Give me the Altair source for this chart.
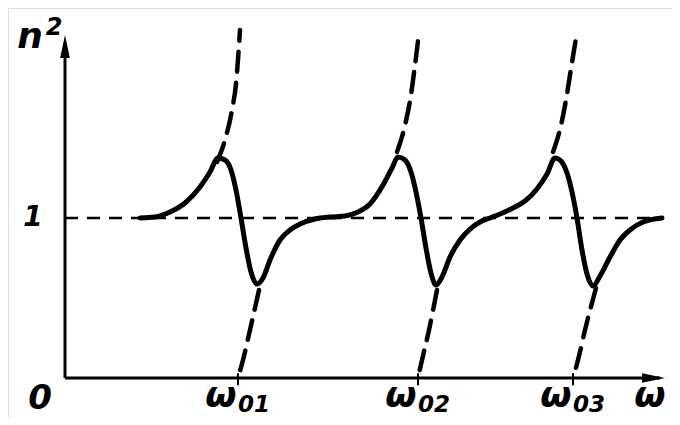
import altair as alt
import pandas as pd

# ---- data (x: omega in arbitrary units, y: n^2) ----
curve_x = [0.75, 0.90, 1.05, 1.20, 1.35, 1.45, 1.53, 1.60, 1.66, 1.71, 1.76, 1.81, 1.86, 1.92,
           1.98, 2.05, 2.15, 2.25, 2.35, 2.50, 2.65, 2.80, 2.93, 3.05, 3.18, 3.27, 3.33, 3.40,
           3.46, 3.51, 3.56, 3.61, 3.66, 3.71, 3.77, 3.85, 3.95, 4.05, 4.15, 4.25, 4.35, 4.48,
           4.60, 4.72, 4.82, 4.90, 4.96, 5.02, 5.07, 5.12, 5.17, 5.22, 5.28, 5.35, 5.45, 5.55,
           5.65, 5.78, 5.97]
curve_y = [1.0, 1.006, 1.0375, 1.094, 1.194, 1.2875, 1.375, 1.3625, 1.30, 1.175, 1.0, 0.8125,
           0.6625, 0.5875, 0.625, 0.7375, 0.8625, 0.925, 0.9625, 0.994, 1.006, 1.0125, 1.0375,
           1.0875, 1.206, 1.3125, 1.381, 1.3625, 1.2875, 1.1625, 1.0, 0.8125, 0.656, 0.581,
           0.631, 0.756, 0.8625, 0.931, 0.975, 1.0, 1.025, 1.0625, 1.106, 1.181, 1.275, 1.375,
           1.356, 1.281, 1.1625, 1.0, 0.8, 0.65, 0.575, 0.6375, 0.756, 0.8625, 0.925, 0.975, 1.0]

# undamped branches (dashed), one list per branch
up1_x = [1.52, 1.60, 1.67, 1.71, 1.75]
up1_y = [1.35, 1.4875, 1.675, 1.8375, 2.175]
lo1_x = [1.94, 1.85, 1.78, 1.73]
lo1_y = [0.55, 0.30, 0.1125, 0.0]
up2_x = [3.32, 3.40, 3.46, 3.50, 3.54]
up2_y = [1.4125, 1.58, 1.77, 1.956, 2.156]
lo2_x = [3.72, 3.64, 3.57, 3.53]
lo2_y = [0.55, 0.30, 0.1125, 0.0]
up3_x = [4.88, 4.96, 5.01, 5.05, 5.11]
up3_y = [1.4125, 1.58, 1.7375, 1.894, 2.125]
lo3_x = [5.31, 5.20, 5.13, 5.08]
lo3_y = [0.5625, 0.30, 0.1125, 0.0]

res_ticks = [1.73, 3.53, 5.08]
tick_subs = ["01", "02", "03"]
x_max = 6.0
y_max = 2.144
unit_level = 1.0

# ---- layout ----
W, H = 664, 409
xs = alt.Scale(domain=[-0.57, 6.07], nice=False, zero=False)
ys = alt.Scale(domain=[-0.24375, 2.3125], nice=False, zero=False)
FONT = "DejaVu Sans"
INK = "#000000"

curve_df = pd.DataFrame({"x": curve_x, "y": curve_y})
branches = []
for name, bx, by in [("u1", up1_x, up1_y), ("l1", lo1_x, lo1_y), ("u2", up2_x, up2_y),
                     ("l2", lo2_x, lo2_y), ("u3", up3_x, up3_y), ("l3", lo3_x, lo3_y)]:
    for i, (a, b) in enumerate(zip(bx, by)):
        branches.append({"b": name, "i": i, "x": a, "y": b})
br_df = pd.DataFrame(branches)

X = lambda: alt.X("x:Q", scale=xs, axis=None)
Y = lambda: alt.Y("y:Q", scale=ys, axis=None)

curve = alt.Chart(curve_df).mark_line(color=INK, strokeWidth=5, interpolate="monotone",
                                      strokeCap="round", strokeJoin="round").encode(x=X(), y=Y())

branch = alt.Chart(br_df).mark_line(color=INK, strokeWidth=4.5, strokeDash=[20, 11],
                                    interpolate="monotone", strokeCap="round").encode(
    x=X(), y=Y(), detail="b:N", order="i:Q")

unit_df = pd.DataFrame({"x": [0.0], "x2": [5.97], "y": [unit_level]})
unit_line = alt.Chart(unit_df).mark_rule(color=INK, strokeWidth=2.4, strokeDash=[13, 9]).encode(
    x=X(), x2="x2:Q", y=Y())

axes_df = pd.DataFrame({"x": [0.0, 0.0], "x2": [x_max - 0.05, 0.0], "y": [0.0, 0.0],
                        "y2": [0.0, y_max - 0.05]})
axes = alt.Chart(axes_df).mark_rule(color=INK, strokeWidth=3).encode(
    x=X(), x2="x2:Q", y=Y(), y2="y2:Q")

tick_df = pd.DataFrame({"x": res_ticks, "y": [0.03] * 3, "y2": [-0.045] * 3, "sub": tick_subs})
ticks = alt.Chart(tick_df).mark_rule(color=INK, strokeWidth=2).encode(x=X(), y=Y(), y2="y2:Q")

# arrowheads: tip at the path origin
arr_up = alt.Chart(pd.DataFrame({"x": [0.0], "y": [y_max]})).mark_point(
    shape="M0,0L0.38,1.8L-0.38,1.8Z", size=650, filled=True, color=INK, opacity=1, strokeWidth=0
).encode(x=X(), y=Y())
arr_rt = alt.Chart(pd.DataFrame({"x": [x_max], "y": [0.0]})).mark_point(
    shape="M0,0L-1.8,0.38L-1.8,-0.38Z", size=650, filled=True, color=INK, opacity=1, strokeWidth=0
).encode(x=X(), y=Y())

# labels
omega_lbl = alt.Chart(tick_df).mark_text(font=FONT, fontSize=36, fontStyle="italic", fontWeight="bold",
                                         color=INK, align="center", baseline="alphabetic", dx=-17).encode(
    x=X(), y=alt.value(399), text=alt.value("ω"))
sub_lbl = alt.Chart(tick_df).mark_text(font=FONT, fontSize=23, fontStyle="italic", fontWeight="bold",
                                       color=INK, align="left", baseline="alphabetic", dx=0).encode(
    x=X(), y=alt.value(404), text="sub:N")
omega_end = alt.Chart(pd.DataFrame({"x": [x_max - 0.15]})).mark_text(
    font=FONT, fontSize=36, fontStyle="italic", fontWeight="bold", color=INK, align="center",
    baseline="alphabetic"
).encode(x=X(), y=alt.value(399), text=alt.value("ω"))
zero_lbl = alt.Chart(pd.DataFrame({"x": [0.0]})).mark_text(
    font=FONT, fontSize=34, fontStyle="italic", fontWeight="bold", color=INK, align="center",
    baseline="alphabetic", dx=-25
).encode(x=X(), y=alt.value(401), text=alt.value("0"))
one_lbl = alt.Chart(pd.DataFrame({"y": [unit_level]})).mark_text(
    font=FONT, fontSize=28, fontStyle="italic", fontWeight="bold", color=INK, align="center",
    baseline="middle"
).encode(x=alt.value(25), y=Y(), text=alt.value("1"))
n_lbl = alt.Chart(pd.DataFrame({"y": [y_max]})).mark_text(
    font=FONT, fontSize=36, fontStyle="italic", fontWeight="bold", color=INK, align="center",
    baseline="alphabetic"
).encode(x=alt.value(22), y=alt.value(40), text=alt.value("n"))
sq_lbl = alt.Chart(pd.DataFrame({"y": [y_max]})).mark_text(
    font=FONT, fontSize=24, fontStyle="italic", fontWeight="bold", color=INK, align="center",
    baseline="alphabetic"
).encode(x=alt.value(46), y=alt.value(27), text=alt.value("2"))

chart = alt.layer(unit_line, axes, ticks, branch, curve, arr_up, arr_rt,
                  omega_lbl, sub_lbl, omega_end, zero_lbl, one_lbl, n_lbl, sq_lbl).properties(
    width=W, height=H, autosize=alt.AutoSizeParams(type="none"), padding=0
).configure_view(stroke=None).configure(background="white")

chart.save("out.html", embed_options={"renderer": "svg", "actions": False})
